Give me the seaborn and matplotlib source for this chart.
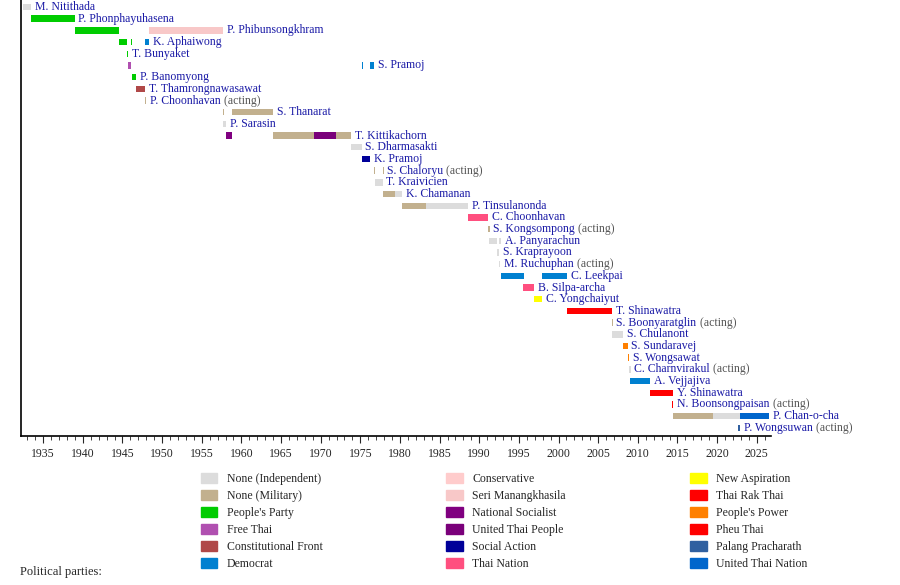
import matplotlib.pyplot as plt
import matplotlib.patches as mpatches
from matplotlib.ticker import MultipleLocator
import seaborn as sns

parties = ["None (Independent)", "None (Military)", "People's Party", "Free Thai",
           "Constitutional Front", "Democrat", "Conservative", "Seri Manangkhasila",
           "National Socialist", "United Thai People", "Social Action", "Thai Nation",
           "New Aspiration", "Thai Rak Thai", "People's Power", "Pheu Thai",
           "Palang Pracharath", "United Thai Nation"]
party_colours = ["#dcdcdc", "#c2b08e", "#00cc00", "#b050b0", "#b04848", "#0080d0",
                 "#ffcccc", "#f8c8c8", "#800080", "#7a007a", "#000099", "#ff4f7f",
                 "#ffff00", "#ff0000", "#ff8000", "#ff0000", "#3060a0", "#0066cc"]

names = ["M. Nitithada", "P. Phonphayuhasena", "P. Phibunsongkhram", "K. Aphaiwong",
         "T. Bunyaket", "S. Pramoj", "P. Banomyong", "T. Thamrongnawasawat",
         "P. Choonhavan", "S. Thanarat", "P. Sarasin", "T. Kittikachorn",
         "S. Dharmasakti", "K. Pramoj", "S. Chaloryu", "T. Kraivicien", "K. Chamanan",
         "P. Tinsulanonda", "C. Choonhavan", "S. Kongsompong", "A. Panyarachun",
         "S. Kraprayoon", "M. Ruchuphan", "C. Leekpai", "B. Silpa-archa",
         "C. Yongchaiyut", "T. Shinawatra", "S. Boonyaratglin", "S. Chulanont",
         "S. Sundaravej", "S. Wongsawat", "C. Charnvirakul", "A. Vejjajiva",
         "Y. Shinawatra", "N. Boonsongpaisan", "P. Chan-o-cha", "P. Wongsuwan"]
acting = [False, False, False, False, False, False, False, False, True, False, False,
          False, False, False, True, False, False, False, False, True, False, False,
          True, False, False, False, False, True, False, False, False, True, False,
          False, True, False, True]

# terms: (start, end, party index) per prime minister
terms = [
    [(1932.5, 1933.5, 0)],
    [(1933.5, 1938.95, 2)],
    [(1938.95, 1944.6, 2), (1948.3, 1957.7, 7)],
    [(1944.6, 1945.6, 2), (1946.05, 1946.25, 2), (1947.85, 1948.3, 5)],
    [(1945.6, 1945.75, 2)],
    [(1945.75, 1946.1, 3), (1975.15, 1975.4, 5), (1976.25, 1976.75, 5)],
    [(1946.25, 1946.75, 2)],
    [(1946.75, 1947.85, 4)],
    [(1947.85, 1947.95, 1)],
    [(1957.7, 1957.8, 1), (1958.8, 1964.0, 1)],
    [(1957.7, 1958.0, 0)],
    [(1958.0, 1958.8, 8), (1964.0, 1969.1, 1), (1969.1, 1971.9, 9), (1971.9, 1973.8, 1)],
    [(1973.8, 1975.15, 0)],
    [(1975.2, 1976.2, 10)],
    [(1976.75, 1976.85, 1), (1977.8, 1977.9, 1)],
    [(1976.8, 1977.8, 0)],
    [(1977.9, 1979.4, 1), (1979.4, 1980.2, 0)],
    [(1980.2, 1983.3, 1), (1983.3, 1988.6, 0)],
    [(1988.6, 1991.15, 11)],
    [(1991.15, 1991.25, 1)],
    [(1991.2, 1992.3, 0), (1992.45, 1992.75, 0)],
    [(1992.3, 1992.45, 0)],
    [(1992.45, 1992.6, 0)],
    [(1992.75, 1995.6, 5), (1997.9, 2001.1, 5)],
    [(1995.5, 1996.9, 11)],
    [(1996.9, 1997.9, 12)],
    [(2001.1, 2006.7, 13)],
    [(2006.7, 2006.8, 1)],
    [(2006.75, 2008.1, 0)],
    [(2008.1, 2008.7, 14)],
    [(2008.7, 2008.95, 14)],
    [(2008.95, 2009.05, 0)],
    [(2009.0, 2011.6, 5)],
    [(2011.6, 2014.45, 15)],
    [(2014.35, 2014.5, 15)],
    [(2014.5, 2019.5, 1), (2019.5, 2022.9, 0), (2022.9, 2026.6, 17)],
    [(2022.65, 2022.85, 16)],
]

sns.set_style("white")
plt.rcParams['font.family'] = ['Liberation Serif', 'DejaVu Serif']
fig = plt.figure(figsize=(9, 5.85), dpi=100)
ax = fig.add_axes([21 / 900, 1 - 436 / 585, 750 / 900, 436 / 585])

for i, segs in enumerate(terms):
    for s, e, p in segs:
        ax.barh(i, max(e - s, 0.15), left=s, height=0.55, color=party_colours[p], linewidth=0)
    end = max(e for s, e, p in segs)
    t = ax.text(end + 0.5, i, names[i], color="#1a1aa6", fontsize=8.5, va="center")
    if acting[i]:
        ax.annotate(" (acting)", xycoords=t, xy=(1, 0.5), va="center",
                    color="#555555", fontsize=8.5)

ax.set_xlim(1932.2, 2026.8)
ax.set_ylim(len(names) - 0.3, -0.6)
ax.set_yticks([])
ax.xaxis.set_major_locator(MultipleLocator(5))
ax.xaxis.set_minor_locator(MultipleLocator(1))
ax.tick_params(axis="x", which="major", length=5, labelsize=8.5, bottom=True)
ax.tick_params(axis="x", which="minor", length=3, bottom=True)
for side in ["top", "right"]:
    ax.spines[side].set_visible(False)
for side in ["left", "bottom"]:
    ax.spines[side].set_color("black")
    ax.spines[side].set_linewidth(1.2)

handles = [mpatches.Patch(color=c, label=p) for p, c in zip(parties, party_colours)]
fig.legend(handles=handles, ncol=3, loc="upper left", bbox_to_anchor=(190 / 900, 1 - 462 / 585),
           frameon=False, fontsize=8.5, handlelength=1.4, handleheight=1.0,
           columnspacing=10.5, labelspacing=0.4, handletextpad=0.8)
fig.text(20 / 900, 1 - 572 / 585, "Political parties:", fontsize=9, va="center")

fig.savefig("out.png", dpi=100)
